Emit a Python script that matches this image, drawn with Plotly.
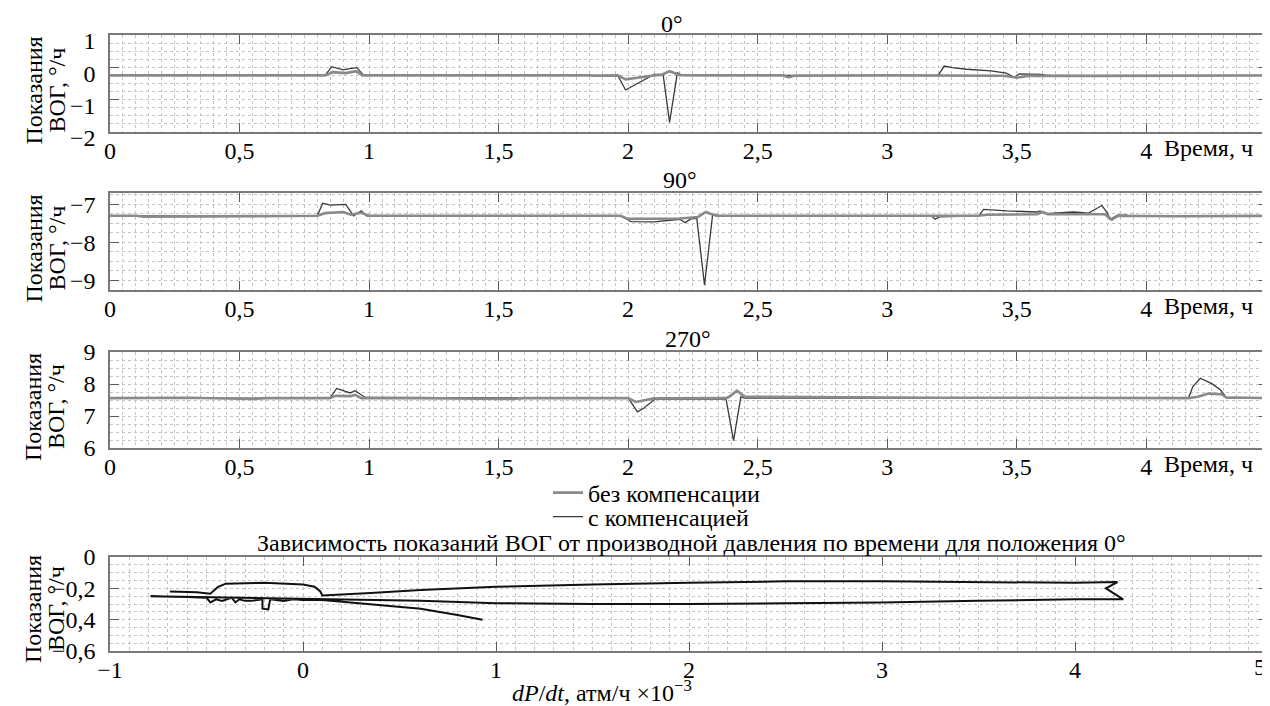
import plotly.graph_objects as go

# The page body has an 8 px margin, so the figure is drawn 8 px right/down of the window corner.
OFF = 8
W, H = 1270 - OFF, 706 - OFF
FONT = "Liberation Serif"

# ---------------- data ----------------
# Panel 0°
t0_raw = [0, 0.12, 0.16, 0.4, 0.83, 0.86, 0.91, 0.95, 0.975, 1.2, 1.38, 1.4, 1.85, 1.87, 1.96, 1.99, 2.1, 2.13, 2.16, 2.2, 2.3, 2.6, 2.62, 2.64, 3.0, 3.45, 3.5, 3.55, 3.8, 4.2, 4.47]
v0_raw = [-0.25, -0.25, -0.24, -0.25, -0.25, -0.15, -0.18, -0.12, -0.25, -0.25, -0.24, -0.25, -0.25, -0.26, -0.25, -0.37, -0.25, -0.23, -0.12, -0.24, -0.25, -0.25, -0.31, -0.26, -0.25, -0.26, -0.32, -0.26, -0.27, -0.25, -0.25]
t0_cmp = [0, 0.83, 0.856, 0.875, 0.90, 0.92, 0.952, 0.98, 1.96, 1.99, 2.10, 2.135, 2.16, 2.19, 2.21, 3.197, 3.22, 3.25, 3.307, 3.40, 3.46, 3.49, 3.51, 3.59, 3.62, 4.47]
v0_cmp = [-0.25, -0.25, 0.02, -0.03, -0.08, -0.05, -0.01, -0.25, -0.25, -0.70, -0.22, -0.22, -1.70, -0.17, -0.25, -0.25, 0.04, -0.01, -0.06, -0.11, -0.18, -0.31, -0.20, -0.22, -0.25, -0.25]

# Panel 90°
t90_raw = [0, 0.1, 0.13, 0.5, 0.80, 0.83, 0.90, 0.93, 0.97, 1.0, 1.4, 1.97, 2.0, 2.10, 2.2, 2.27, 2.30, 2.32, 2.35, 2.7, 3.0, 3.35, 3.385, 3.58, 3.6, 3.62, 3.8, 3.84, 3.867, 3.89, 4.1, 4.47]
v90_raw = [-7.3, -7.3, -7.32, -7.3, -7.3, -7.23, -7.2, -7.27, -7.22, -7.3, -7.3, -7.3, -7.38, -7.37, -7.37, -7.33, -7.2, -7.25, -7.3, -7.3, -7.3, -7.3, -7.27, -7.26, -7.2, -7.26, -7.26, -7.26, -7.4, -7.3, -7.31, -7.3]
t90_cmp = [0, 0.80, 0.821, 0.85, 0.91, 0.933, 0.94, 0.97, 0.99, 1.975, 2.01, 2.10, 2.17, 2.2, 2.22, 2.245, 2.265, 2.295, 2.326, 2.34, 3.17, 3.185, 3.2, 3.353, 3.372, 3.462, 3.578, 3.59, 3.61, 3.72, 3.777, 3.80, 3.829, 3.85, 3.86, 3.89, 3.925, 3.93, 4.47]
v90_cmp = [-7.3, -7.3, -6.97, -7.02, -7.0, -7.23, -7.3, -7.17, -7.3, -7.3, -7.45, -7.46, -7.4, -7.39, -7.48, -7.37, -7.37, -9.12, -7.28, -7.3, -7.3, -7.39, -7.33, -7.3, -7.13, -7.17, -7.2, -7.17, -7.24, -7.2, -7.23, -7.15, -7.03, -7.23, -7.39, -7.28, -7.28, -7.3, -7.3]

# Panel 270°
t270_raw = [0, 0.3, 0.55, 0.6, 0.849, 0.87, 0.93, 0.946, 0.97, 1.2, 1.55, 1.6, 2.0, 2.03, 2.1, 2.378, 2.39, 2.42, 2.45, 2.8, 3.2, 3.5, 4.163, 4.20, 4.24, 4.29, 4.31, 4.34, 4.47]
v270_raw = [7.56, 7.57, 7.53, 7.56, 7.56, 7.63, 7.62, 7.66, 7.56, 7.56, 7.53, 7.56, 7.56, 7.44, 7.55, 7.56, 7.6, 7.79, 7.6, 7.58, 7.57, 7.57, 7.56, 7.6, 7.7, 7.68, 7.57, 7.58, 7.56]
t270_cmp = [0, 0.849, 0.875, 0.90, 0.927, 0.946, 0.965, 0.985, 2.001, 2.036, 2.06, 2.104, 2.378, 2.407, 2.435, 2.45, 4.163, 4.18, 4.209, 4.23, 4.253, 4.286, 4.30, 4.311, 4.47]
v270_cmp = [7.56, 7.56, 7.86, 7.79, 7.72, 7.79, 7.70, 7.58, 7.56, 7.13, 7.24, 7.53, 7.53, 6.23, 7.6, 7.56, 7.56, 7.92, 8.18, 8.11, 8.01, 7.82, 7.66, 7.56, 7.56]

# Bottom: reading vs dP/dt (0°)
dpdt = [-0.69, -0.55, -0.48, -0.44, -0.40, -0.20, 0.0, 0.06, 0.09, 0.10, 0.35, 0.61, 1.0, 1.5, 2.0, 2.5, 3.0, 3.5, 4.0, 4.22, 4.16, 4.25,
        4.0, 3.5, 3.0, 2.5, 2.0, 1.5, 1.0, 0.61, 0.2, 0.0, -0.3, -0.6, -0.79,
        -0.6, -0.5, -0.48, -0.45, -0.42, -0.37, -0.35, -0.33, -0.30, -0.27, -0.21, -0.21, -0.18, -0.17, -0.10, -0.05, 0.0,
        0.10, 0.35, 0.61, 0.80, 0.93]
reading = [-0.22, -0.225, -0.235, -0.19, -0.17, -0.165, -0.175, -0.19, -0.22, -0.245, -0.23, -0.21, -0.19, -0.175, -0.165, -0.155, -0.155, -0.16, -0.165, -0.16, -0.20, -0.27,
           -0.27, -0.28, -0.29, -0.295, -0.30, -0.30, -0.295, -0.28, -0.27, -0.265, -0.26, -0.255, -0.25,
           -0.255, -0.26, -0.29, -0.27, -0.28, -0.26, -0.29, -0.27, -0.28, -0.28, -0.27, -0.33, -0.335, -0.27, -0.28, -0.27, -0.275,
           -0.275, -0.30, -0.33, -0.37, -0.40]

time_ticks = [0, 0.5, 1, 1.5, 2, 2.5, 3, 3.5, 4]
time_ticktext = ["0", "0,5", "1", "1,5", "2", "2,5", "3", "3,5", "4"]
dp_ticks = [-1, 0, 1, 2, 3, 4, 5]
dp_ticktext = ["\u22121", "0", "1", "2", "3", "4", ""]
dp_last_label = "5"   # drawn right-aligned at the axis end, as in the original
y0_ticks, y0_text = [-2, -1, 0, 1], ["\u22122", "\u22121", "0", "1"]
y90_ticks, y90_text = [-9, -8, -7], ["\u22129", "\u22128", "\u22127"]
y270_ticks, y270_text = [6, 7, 8, 9], ["6", "7", "8", "9"]
y4_ticks, y4_text = [-0.6, -0.4, -0.2, 0], ["\u22120,6", "\u22120,4", "\u22120,2", "0"]

panel_titles = ["0°", "90°", "270°"]
legend_names = ["без компенсации", "с компенсацией"]

# ---------------- layout helpers (window pixel -> paper) ----------------
def px(x):
    return (x - OFF) / W

def py(y):
    return 1 - (y - OFF) / H

XL, XR = 110, 1268
panels_px = [(35, 132), (193, 290), (352, 448), (557, 651)]

GRID = "#c4c4c4"

def axis(domain, anchor, rng, tickvals, ticktext, minor_dtick, minor_tick0, standoff, shift=0):
    return dict(
        domain=domain, anchor=anchor, range=rng, automargin=False,
        showline=True, linecolor="#7a7a7a", linewidth=1.5, mirror="ticks",
        ticks="inside", ticklen=9, tickwidth=1.4, tickcolor="#5a5a5a",
        tickmode="array", tickvals=tickvals, ticktext=ticktext,
        tickfont=dict(family=FONT, size=24, color="black"),
        ticklabelstandoff=standoff, ticklabelshift=shift, ticklabeloverflow="allow",
        showgrid=True, gridcolor=GRID, griddash="dot", gridwidth=1,
        minor=dict(tick0=minor_tick0, dtick=minor_dtick, showgrid=True, gridcolor=GRID,
                   griddash="dot", gridwidth=1, ticks=""),
        zeroline=False, fixedrange=True,
    )

fig = go.Figure()

RAW_COLOR, RAW_W = "#8a8a8a", 2.6
CMP_COLOR, CMP_W = "#3a3a3a", 1.3

series = [
    (t0_cmp, v0_cmp, t0_raw, v0_raw),
    (t90_cmp, v90_cmp, t90_raw, v90_raw),
    (t270_cmp, v270_cmp, t270_raw, v270_raw),
]
for i, (tc, vc, tr, vr) in enumerate(series):
    ax = "" if i == 0 else str(i + 1)
    fig.add_trace(go.Scatter(x=tc, y=vc, mode="lines", xaxis="x" + ax, yaxis="y" + ax,
                             line=dict(color=CMP_COLOR, width=CMP_W),
                             name=legend_names[1], showlegend=(i == 0), legend="legend2"))
    fig.add_trace(go.Scatter(x=tr, y=vr, mode="lines", xaxis="x" + ax, yaxis="y" + ax,
                             line=dict(color=RAW_COLOR, width=RAW_W),
                             name=legend_names[0], showlegend=(i == 0), legend="legend"))

fig.add_trace(go.Scatter(x=dpdt, y=reading, mode="lines", xaxis="x4", yaxis="y4",
                         line=dict(color="#111111", width=2.0), showlegend=False))

xdom = [px(XL), min(px(XR), 1.0)]
yranges = [[-2, 1], [-9.25, -6.7], [6, 9], [-0.6, 0]]
yticks = [(y0_ticks, y0_text, 0.25, 6), (y90_ticks, y90_text, 0.25, 0),
          (y270_ticks, y270_text, 0.25, 0), (y4_ticks, y4_text, 0.05, 0)]

leg_common = dict(xanchor="left", yanchor="middle", font=dict(family=FONT, size=24, color="black"),
                  bgcolor="rgba(0,0,0,0)", borderwidth=0, itemwidth=30)
layout = dict(
    width=W, height=H, margin=dict(l=0, r=0, t=0, b=0, pad=0, autoexpand=False),
    paper_bgcolor="white", plot_bgcolor="white",
    font=dict(family=FONT, size=24, color="black"),
    legend=dict(x=px(548), y=py(493), **leg_common),
    legend2=dict(x=px(548), y=py(517), **leg_common),
)
for i in range(4):
    top, bot = panels_px[i]
    ydom = [py(bot), py(top)]
    sfx = "" if i == 0 else str(i + 1)
    if i < 3:
        xa = axis(xdom, "y" + sfx, [0, 4.47], time_ticks, time_ticktext, 0.05, 0, -4)
    else:
        xa = axis(xdom, "y" + sfx, [-1, 5], dp_ticks, dp_ticktext, 0.1, 0, -4)
    yt, ytxt, mdt, shift = yticks[i]
    ya = axis(ydom, "x" + sfx, yranges[i], yt, ytxt, mdt, yranges[i][0], 8, shift)
    layout["xaxis" + sfx] = xa
    layout["yaxis" + sfx] = ya

fig.update_layout(**layout)

annotations = []
# panel titles
title_pos = [(672, 24), (680, 180), (688, 339)]
for txt, (x, y) in zip(panel_titles, title_pos):
    annotations.append(dict(text=txt, x=px(x), y=py(y), xref="paper", yref="paper",
                            showarrow=False, xanchor="center", yanchor="middle",
                            font=dict(family=FONT, size=24)))
annotations.append(dict(text="Зависимость показаний ВОГ от производной давления по времени для положения 0°",
                        x=px(691), y=py(543), xref="paper", yref="paper", showarrow=False,
                        xanchor="center", yanchor="middle", font=dict(family=FONT, size=24)))
# last tick label of the bottom axis, right-aligned at the axis end
annotations.append(dict(text=dp_last_label, x=dp_ticks[-1], xref="x4", y=py(667), yref="paper",
                        showarrow=False, xanchor="right", yanchor="middle",
                        font=dict(family=FONT, size=24)))
# time axis labels
for i in range(3):
    top, bot = panels_px[i]
    annotations.append(dict(text="Время, ч", x=px(1162), y=py(bot + 16), xref="paper", yref="paper",
                            showarrow=False, xanchor="left", yanchor="middle",
                            font=dict(family=FONT, size=24)))
annotations.append(dict(text="<i>dP</i>/<i>dt</i>, атм/ч ×10<sup>\u22123</sup>", x=px(602), y=py(691),
                        xref="paper", yref="paper", showarrow=False, xanchor="center", yanchor="middle",
                        font=dict(family=FONT, size=24)))
# y axis labels
for i in range(4):
    top, bot = panels_px[i]
    yc = (top + bot) / 2 + (5 if i == 3 else 7)
    annotations.append(dict(text="Показания", x=px(33), y=py(yc), xref="paper", yref="paper",
                            showarrow=False, textangle=-90, xanchor="center", yanchor="middle",
                            font=dict(family=FONT, size=24)))
    annotations.append(dict(text="ВОГ, °/ч", x=px(56), y=py(yc), xref="paper", yref="paper",
                            showarrow=False, textangle=-90, xanchor="center", yanchor="middle",
                            font=dict(family=FONT, size=24)))
fig.update_layout(annotations=annotations)

fig.write_html("out.html")
